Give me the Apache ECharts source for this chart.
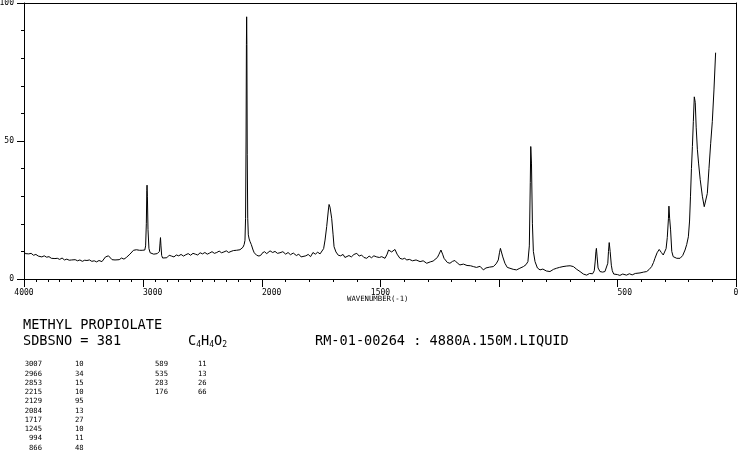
<!DOCTYPE html>
<html>
<head>
<meta charset="utf-8">
<script src="https://cdn.jsdelivr.net/npm/echarts@6/dist/echarts.min.js"></script>
<style>
html,body{margin:0;padding:0;background:#fff;}
#chart{width:738px;height:457px;}
</style>
</head>
<body>
<div id="chart"></div>
<script>
// Spectrum (wavenumber cm-1, relative intensity)
const wavenumbers = [
4000,3990,3975,3960,3940,3920,3900,3880,3866,3850,3830,3810,3790,3770,3756,3740,3720,3700,3680,3660,3640,3620,3600,3588,3570,3550,3530,3510,3490,3471,3450,3430,3410,3390,3370,3355,3345,3330,3315,3300,3290,3275,3260,3245,3235,3220,3200,3180,3160,3140,3125,3110,3095,3080,3067,3055,3042,3030,3015,3007,2995,2985,2978,2972,2968,2966,2963,2958,2950,2940,2925,2910,2895,2880,2870,2862,2857,2853,2849,2843,2835,2820,2800,2780,2760,2740,2720,2700,2680,2660,2640,2620,2600,2580,2560,2540,2520,2500,2480,2460,2440,2420,2400,2380,2360,2340,2320,2300,2280,2260,2240,2225,2215,2200,2185,2170,2160,2150,2143,2138,2134,2131,2129,2127,2124,2120,2115,2108,2100,2090,2084,2075,2065,2055,2045,2035,2025,2015,2005,2000,
1990,1980,1966,1955,1945,1935,1924,1912,1900,1890,1880,1868,1855,1845,1835,1827,1815,1805,1795,1785,1775,1765,1755,1748,1740,1734,1727,1720,1717,1713,1706,1700,1696,1688,1678,1668,1658,1650,1643,1633,1623,1612,1600,1590,1580,1570,1558,1548,1538,1528,1516,1505,1495,1481,1472,1466,1460,1453,1446,1439,1430,1418,1408,1398,1389,1378,1365,1350,1333,1320,1305,1290,1278,1270,1260,1253,1245,1238,1232,1228,1218,1207,1196,1186,1176,1165,1150,1135,1120,1108,1095,1080,1066,1055,1040,1024,1012,1003,998,994,990,984,975,965,954,940,926,912,897,886,878,872,868,866,863,859,855,848,838,827,815,800,785,770,757,745,730,714,700,686,672,658,644,630,618,605,598,594,591,589,586,582,574,563,553,545,541,538,535,531,526,522,516,511,500,490,478,462,450,438,425,419,405,390,377,367,356,348,342,333,324,315,307,300,295,290,285,283,280,276,271,265,258,250,243,236,225,215,208,201,196,192,188,184,180,176,172,168,163,158,151,142,134,128,121,114,107,100,93,86
];
const intensities = [
10.0,9.2,9.7,9.1,9.3,8.6,8.9,8.3,8.6,8.0,8.4,7.9,8.1,7.5,7.9,7.4,7.5,7.1,7.6,6.9,7.2,6.8,6.9,6.5,7.0,6.6,6.9,6.4,6.8,6.7,6.9,6.4,6.6,6.2,6.7,6.1,6.3,7.0,8.0,8.6,8.4,7.8,7.0,6.8,6.9,7.4,7.0,7.6,7.2,7.8,8.4,9.0,9.6,10.4,10.0,10.6,10.9,10.4,10.8,10.4,10.0,10.5,12.0,20,32,34,30,18,11,9.5,9.3,9.0,8.8,9.2,9.0,10.0,13,15,12,8.5,7.6,8.2,7.7,8.6,8.3,8.0,8.7,8.4,8.9,8.3,8.8,9.2,8.6,9.3,9.0,8.7,9.5,9.1,9.6,9.0,9.4,9.9,9.3,9.6,10.1,9.5,9.8,10.2,9.6,10.0,10.3,9.9,10.4,9.8,10.6,10.8,11.5,12.5,14,22,50,85,95,85,45,22,16,14.5,13.5,12.5,12.8,10.5,9.5,9.2,8.6,8.0,8.3,8.0,8.8,9.3,
9.9,9.2,10.2,9.6,10.0,9.3,9.5,9.9,9.0,9.6,8.8,9.4,8.5,9.0,8.0,7.5,8.4,8.9,8.1,9.6,9.0,9.7,9.1,9.5,11.0,14.1,19,25,27,26,22,16,11.7,9.8,8.6,8.4,8.9,7.8,7.5,8.5,8.0,8.9,9.3,8.3,8.7,7.8,7.5,8.3,7.7,8.4,8.0,7.8,8.1,7.5,9.0,10.5,10.7,9.8,10.0,10.7,9.0,7.5,7.2,7.5,6.9,7.1,6.6,6.9,6.3,6.6,5.7,6.2,6.5,6.9,7.8,9.0,10.5,9.0,7.5,6.9,6.0,5.7,6.4,6.7,5.8,5.1,5.4,4.9,4.8,4.5,4.2,4.6,3.3,4.0,4.3,4.5,5.5,6.9,9.5,11.1,10.5,8.0,5.7,4.2,3.9,3.5,3.3,3.9,4.5,5.2,6.3,12,35,48,42,20,10,6.3,4.0,3.3,3.6,2.9,2.7,3.5,3.9,4.2,4.5,4.7,4.8,4.5,3.5,2.7,1.8,1.4,2.0,1.9,3.0,6.5,10,11.1,8,4,2.7,2.5,2.7,3.0,5.7,10,13.2,10,5,3.0,1.8,1.4,1.6,1.3,1.8,1.4,1.9,1.5,2.0,1.6,2.2,2.5,2.7,3.4,4.5,6.0,7.5,9.5,10.7,9.6,8.7,9.0,11,15,22,26.4,22,17.8,10,8.1,7.5,7.5,7.8,7.5,8.5,10.5,12.5,15.3,21,30,40,48,57,66,64,55,47,42,36,30,26.2,26.5,31,40,49,57,68.5,82
];

// Peak table
const peakWnA = [3007, 2966, 2853, 2215, 2129, 2084, 1717, 1245, 994, 866];
const peakIntA = [10, 34, 15, 10, 95, 13, 27, 10, 11, 48];
const peakWnB = [589, 535, 283, 176];
const peakIntB = [11, 13, 26, 66];

// Axis tick labels
const yTicks = [0, 50, 100];
const xLabelsHigh = [3000];
const xLabelsHighCenter = [4000];
const xLabelsLow = [2000, 500];
const xLabelsLowCenter = [1500, 0];

const compound = 'METHYL PROPIOLATE';
const sdbsLine = 'SDBSNO = 381';
const condLine = 'RM-01-00264 : 4880A.150M.LIQUID';
const axisName = 'WAVENUMBER(-1)';

const highPart = [], lowPart = [];
for (let i = 0; i < wavenumbers.length; i++) {
  const p = [wavenumbers[i], intensities[i]];
  if (wavenumbers[i] >= 2000) highPart.push(p);
  if (wavenumbers[i] <= 2000) lowPart.push(p);
}

const FONT = '"DejaVu Sans Mono", "Liberation Mono", monospace';
const black = '#000';

function lineOnly(gridIndex, pos, min, max, inverse) {
  return {
    gridIndex, type: 'value', position: pos, min, max, inverse,
    axisLine: {show: true, onZero: false, lineStyle: {color: black, width: 1}},
    axisTick: {show: false}, minorTick: {show: false},
    axisLabel: {show: false}, splitLine: {show: false}
  };
}
function labelOnly(gridIndex, min, max, inverse, vals, align) {
  return {
    gridIndex, type: 'value', position: 'bottom', min, max, inverse,
    axisLine: {show: false}, axisTick: {show: false}, minorTick: {show: false},
    splitLine: {show: false},
    axisLabel: {show: true, customValues: vals, align: align, margin: 10,
      fontFamily: FONT, fontSize: 8, color: black, formatter: v => String(v)}
  };
}

const xAxes = [
  // grid 0 : 4000 - 2000
  {
    gridIndex: 0, type: 'value', position: 'bottom', min: 2000, max: 4000, inverse: true,
    interval: 1000,
    axisLine: {show: true, onZero: false, lineStyle: {color: black, width: 1}},
    axisTick: {show: true, inside: false, length: 8, lineStyle: {color: black}},
    minorTick: {show: true, splitNumber: 10, length: 3, lineStyle: {color: black}},
    splitLine: {show: false}, minorSplitLine: {show: false},
    axisLabel: {show: true, customValues: xLabelsHigh, align: 'left', margin: 10,
      fontFamily: FONT, fontSize: 8, color: black, formatter: v => String(v)}
  },
  labelOnly(0, 2000, 4000, true, xLabelsHighCenter, 'center'),
  lineOnly(0, 'top', 2000, 4000, true),
  // grid 1 : 2000 - 0
  {
    gridIndex: 1, type: 'value', position: 'bottom', min: 0, max: 2000, inverse: true,
    interval: 500,
    axisLine: {show: true, onZero: false, lineStyle: {color: black, width: 1}},
    axisTick: {show: true, inside: false, length: 8, lineStyle: {color: black}},
    minorTick: {show: true, splitNumber: 5, length: 3, lineStyle: {color: black}},
    splitLine: {show: false}, minorSplitLine: {show: false},
    axisLabel: {show: true, customValues: xLabelsLow, align: 'left', margin: 10,
      fontFamily: FONT, fontSize: 8, color: black, formatter: v => String(v)}
  },
  labelOnly(1, 0, 2000, true, xLabelsLowCenter, 'center'),
  lineOnly(1, 'top', 0, 2000, true)
];

const yAxes = [
  {
    gridIndex: 0, type: 'value', position: 'left', min: 0, max: 100, interval: 50,
    axisLine: {show: true, onZero: false, lineStyle: {color: black, width: 1}},
    axisTick: {show: true, inside: false, length: 7, lineStyle: {color: black}},
    minorTick: {show: true, splitNumber: 5, length: 3, lineStyle: {color: black}},
    splitLine: {show: false}, minorSplitLine: {show: false},
    axisLabel: {show: true, customValues: yTicks, margin: 10, fontFamily: FONT, fontSize: 8, color: black}
  },
  lineOnly(1, 'right', 0, 100, false)
];

const graphics = [];
graphics.push({type: 'text', left: 23, top: 318, style: {text: compound, font: '13.6px ' + FONT, fill: black}});
graphics.push({type: 'text', left: 23, top: 334, style: {text: sdbsLine, font: '13.6px ' + FONT, fill: black}});
graphics.push({type: 'text', left: 188, top: 334, style: {
  text: 'C{s|4}H{s|4}O{s|2}', font: '13.6px ' + FONT, fill: black,
  rich: {s: {fontFamily: FONT, fontSize: 8, fill: black, padding: [8, 0, 0, 0]}}
}});
graphics.push({type: 'text', left: 315, top: 334, style: {text: condLine, font: '13.6px ' + FONT, fill: black}});
graphics.push({type: 'text', left: 347, top: 296, style: {text: axisName, font: '7.3px ' + FONT, fill: black}});

const rowTop = 361, rowStep = 9.25;
peakWnA.forEach((w, i) => {
  graphics.push({type: 'text', x: 42, y: rowTop + i * rowStep, style: {text: String(w), font: '7.2px ' + FONT, fill: black, align: 'right', verticalAlign: 'top'}});
  graphics.push({type: 'text', x: 75, y: rowTop + i * rowStep, style: {text: String(peakIntA[i]), font: '7.2px ' + FONT, fill: black, align: 'left', verticalAlign: 'top'}});
});
peakWnB.forEach((w, i) => {
  graphics.push({type: 'text', x: 168, y: rowTop + i * rowStep, style: {text: String(w), font: '7.2px ' + FONT, fill: black, align: 'right', verticalAlign: 'top'}});
  graphics.push({type: 'text', x: 198, y: rowTop + i * rowStep, style: {text: String(peakIntB[i]), font: '7.2px ' + FONT, fill: black, align: 'left', verticalAlign: 'top'}});
});

const chart = echarts.init(document.getElementById('chart'), null, {renderer: 'canvas'});
chart.setOption({
  animation: false,
  backgroundColor: '#fff',
  grid: [
    {left: 24, top: 3, width: 238, height: 276, outerBoundsMode: 'none', containLabel: false},
    {left: 262, top: 3, width: 474, height: 276, outerBoundsMode: 'none', containLabel: false}
  ],
  xAxis: xAxes,
  yAxis: yAxes,
  series: [
    {type: 'line', xAxisIndex: 0, yAxisIndex: 0, data: highPart, showSymbol: false, symbol: 'none',
     lineStyle: {color: black, width: 1}, silent: true},
    {type: 'line', xAxisIndex: 3, yAxisIndex: 1, data: lowPart, showSymbol: false, symbol: 'none',
     lineStyle: {color: black, width: 1}, silent: true}
  ],
  graphic: graphics
});
</script>
</body>
</html>
